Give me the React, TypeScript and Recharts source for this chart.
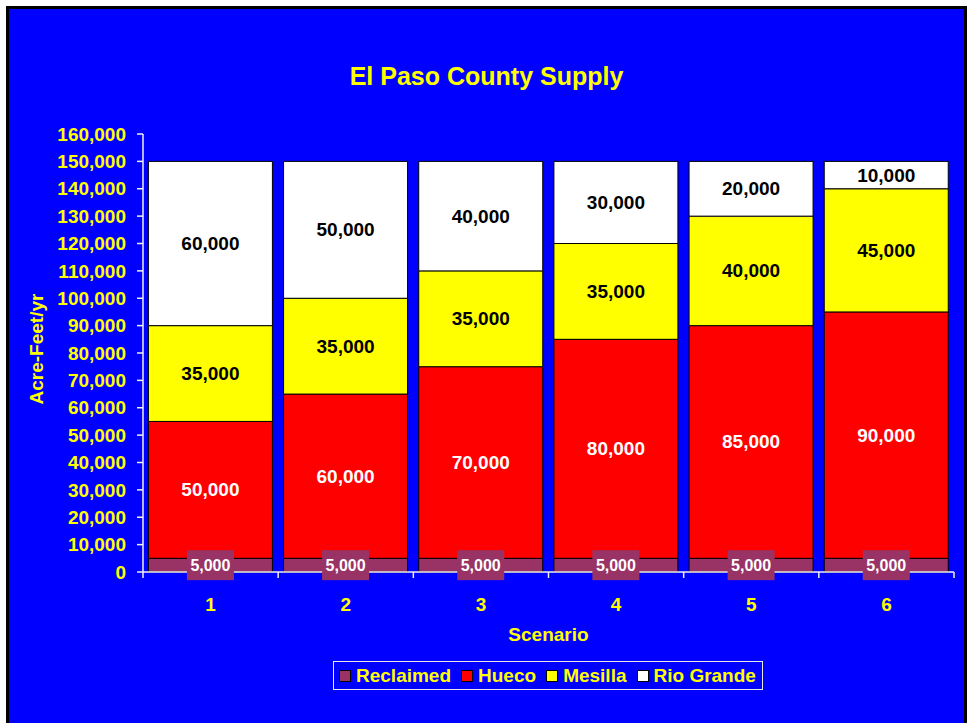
// El Paso County Supply - stacked bars
import { BarChart, Bar, XAxis, YAxis, LabelList } from 'recharts'

const scenarios = ['1', '2', '3', '4', '5', '6']
const reclaimed = [5000, 5000, 5000, 5000, 5000, 5000]
const hueco = [50000, 60000, 70000, 80000, 85000, 90000]
const mesilla = [35000, 35000, 35000, 35000, 40000, 45000]
const rioGrande = [60000, 50000, 40000, 30000, 20000, 10000]
const yTicks = [0, 10000, 20000, 30000, 40000, 50000, 60000, 70000, 80000, 90000, 100000, 110000, 120000, 130000, 140000, 150000, 160000]

const series = [
  { key: 'reclaimed', name: 'Reclaimed', color: '#993366', text: '#ffffff', values: reclaimed },
  { key: 'hueco', name: 'Hueco', color: '#ff0000', text: '#ffffff', values: hueco },
  { key: 'mesilla', name: 'Mesilla', color: '#ffff00', text: '#000000', values: mesilla },
  { key: 'rioGrande', name: 'Rio Grande', color: '#ffffff', text: '#000000', values: rioGrande },
]

const data = scenarios.map((s, i) => {
  const row: Record<string, string | number> = { scenario: s }
  series.forEach((sr) => (row[sr.key] = sr.values[i]))
  return row
})

const FONT = '"Liberation Sans", Arial, sans-serif'
const YELLOW = '#ffff00'
const BLUE = '#0000ff'
const AXIS = '#f0f0f0'

const W = 955
const H = 714
const M = { top: 125, right: 10, left: 0, bottom: 0 }
const Y_W = 134
const X_H = 151
const PLOT_W = W - M.left - M.right - Y_W

const fmt = (v: number) => Number(v).toLocaleString('en-US')

const XTick = (props: any) => {
  const { x, y, payload, index } = props
  const step = PLOT_W / scenarios.length
  return (
    <g>
      <line x1={x - step / 2} x2={x - step / 2} y1={y} y2={y + 6} stroke={AXIS} strokeWidth={1.5} />
      {index === scenarios.length - 1 && (
        <line x1={x + step / 2} x2={x + step / 2} y1={y} y2={y + 6} stroke={AXIS} strokeWidth={1.5} />
      )}
      <text x={x} y={y + 32} textAnchor="middle" dominantBaseline="central" fill={YELLOW}
        fontFamily={FONT} fontWeight="bold" fontSize={19}>
        {payload.value}
      </text>
    </g>
  )
}

const makeLabel = (textColor: string, boxed?: string) => (props: any) => {
  const { x, y, width, height, value } = props
  const cx = Number(x) + Number(width) / 2
  const cy = Number(y) + Number(height) / 2
  return (
    <g>
      {boxed && <rect x={cx - 23.5} y={cy - 15} width={47} height={30} fill={boxed} />}
      <text x={cx} y={cy} textAnchor="middle" dominantBaseline="central" fill={textColor}
        fontFamily={FONT} fontWeight="bold" fontSize={boxed ? 16 : 19}>
        {fmt(value)}
      </text>
    </g>
  )
}

export default function App() {
  return (
    <div style={{ position: 'absolute', left: 0, top: 0, width: 969, height: 723, background: '#fff', overflow: 'hidden', fontFamily: FONT }}>
      <div style={{ position: 'absolute', left: 6, top: 6, width: W, height: 720, background: BLUE, border: '3px solid #000' }}>
        <div style={{ position: 'absolute', left: 0, top: 52, width: W, textAlign: 'center', color: YELLOW, fontWeight: 'bold', fontSize: 25, lineHeight: '30px' }}>
          El Paso County Supply
        </div>
        <div style={{ position: 'absolute', left: 28 - 60, top: 340 - 12, width: 120, height: 24, lineHeight: '24px', textAlign: 'center', color: YELLOW, fontWeight: 'bold', fontSize: 19, transform: 'rotate(-90deg)' }}>
          Acre-Feet/yr
        </div>
        <div style={{ position: 'absolute', left: M.left + Y_W, top: 614, width: PLOT_W, textAlign: 'center', color: YELLOW, fontWeight: 'bold', fontSize: 19, lineHeight: '24px' }}>
          Scenario
        </div>
        <BarChart width={W} height={H} data={data} margin={M} barCategoryGap="4%">
          <XAxis dataKey="scenario" height={X_H} tickSize={0} tickMargin={0} tickLine={false}
            axisLine={{ stroke: AXIS, strokeWidth: 1.5 }} tick={<XTick />} interval={0} />
          <XAxis xAxisId="top" orientation="top" dataKey="scenario" height={0} tick={false} tickLine={false}
            axisLine={{ stroke: AXIS, strokeWidth: 1.5 }} />
          <YAxis width={Y_W} domain={[0, 160000]} ticks={yTicks} interval={0} tickFormatter={fmt}
            tickSize={6} tickMargin={11} tickLine={{ stroke: AXIS, strokeWidth: 1.5 }}
            axisLine={{ stroke: AXIS, strokeWidth: 1.5 }}
            tick={{ fill: YELLOW, fontFamily: FONT, fontWeight: 'bold', fontSize: 19 }} />
          <YAxis yAxisId="right" orientation="right" width={0} domain={[0, 160000]} tick={false} tickLine={false}
            axisLine={{ stroke: AXIS, strokeWidth: 1.5 }} />
          {series.map((s) => (
            <Bar key={s.key} dataKey={s.key} name={s.name} stackId="a" fill={s.color}
              stroke="#000" strokeWidth={1} isAnimationActive={false}>
              <LabelList dataKey={s.key} content={makeLabel(s.text, s.key === 'reclaimed' ? s.color : undefined)} />
            </Bar>
          ))}
        </BarChart>
        <div style={{ position: 'absolute', left: 324, top: 652, height: 27, padding: '0 6px 0 5px', border: '1px solid #e6e6e6', display: 'flex', alignItems: 'center', color: YELLOW, fontWeight: 'bold', fontSize: 19, whiteSpace: 'nowrap' }}>
          {series.map((s, i) => (
            <div key={s.key} style={{ display: 'flex', alignItems: 'center', marginLeft: i === 0 ? 0 : 10 }}>
              <span style={{ display: 'inline-block', width: 10, height: 10, background: s.color, border: '1px solid #000', marginRight: 5 }} />
              <span>{s.name}</span>
            </div>
          ))}
        </div>
      </div>
    </div>
  )
}
